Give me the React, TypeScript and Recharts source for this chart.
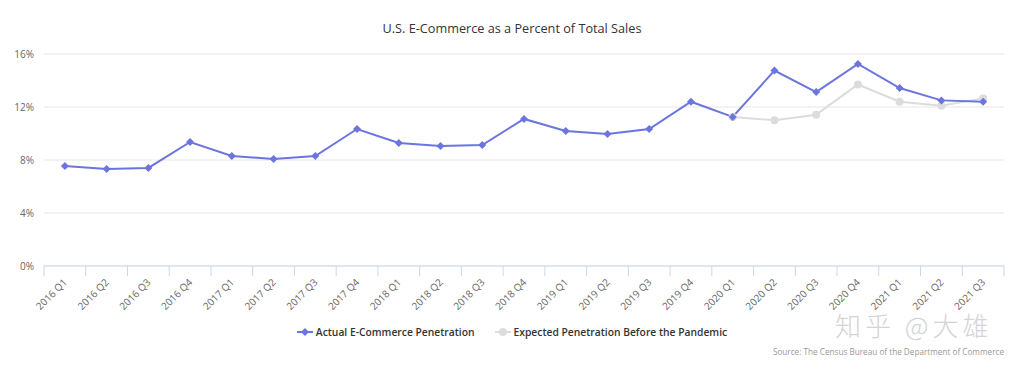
import React from 'react';
import { LineChart, Line, XAxis, YAxis, CartesianGrid } from 'recharts';

const categories = [
  '2016 Q1', '2016 Q2', '2016 Q3', '2016 Q4',
  '2017 Q1', '2017 Q2', '2017 Q3', '2017 Q4',
  '2018 Q1', '2018 Q2', '2018 Q3', '2018 Q4',
  '2019 Q1', '2019 Q2', '2019 Q3', '2019 Q4',
  '2020 Q1', '2020 Q2', '2020 Q3', '2020 Q4',
  '2021 Q1', '2021 Q2', '2021 Q3',
];

const actual = [
  7.55, 7.32, 7.4, 9.36,
  8.3, 8.08, 8.3, 10.34,
  9.28, 9.06, 9.13, 11.1,
  10.19, 9.96, 10.34, 12.4,
  11.25, 14.75, 13.13, 15.25,
  13.43, 12.5, 12.4,
];

const expected: (number | null)[] = [
  null, null, null, null,
  null, null, null, null,
  null, null, null, null,
  null, null, null, null,
  11.25, 11.0, 11.42, 13.7,
  12.4, 12.1, 12.65,
];

const yTicks = [0, 4, 8, 12, 16];

const seriesNames = ['Actual E-Commerce Penetration', 'Expected Penetration Before the Pandemic'];
const BLUE = '#6c74dd';
const GREY = '#dcdcdc';
const FONT = '"Open Sans", "DejaVu Sans", sans-serif';

const data = categories.map((c, i) => ({ cat: c, actual: actual[i], expected: expected[i] }));

const BAND = (1004 - 44) / categories.length;

const XTick = (props: any) => {
  const { x, y, payload, index } = props;
  const left = x - BAND / 2;
  return (
    <g>
      <line x1={left} x2={left} y1={266} y2={276} stroke="#ccd6eb" />
      {index === categories.length - 1 && (
        <line x1={left + BAND} x2={left + BAND} y1={266} y2={276} stroke="#ccd6eb" />
      )}
      <text
        x={x + 3}
        y={y + 9}
        textAnchor="end"
        fill="#666"
        fontSize={10}
        fontFamily={FONT}
        transform={`rotate(-45 ${x + 3} ${y + 9})`}
      >
        {payload.value}
      </text>
    </g>
  );
};

const Diamond = (props: any) => {
  const { cx, cy } = props;
  if (cx == null || cy == null) return null;
  const r = 4;
  return <path d={`M${cx} ${cy - r}L${cx + r} ${cy}L${cx} ${cy + r}L${cx - r} ${cy}Z`} fill={BLUE} />;
};

const Dot = (props: any) => {
  const { cx, cy, value } = props;
  if (cx == null || cy == null || value == null) return null;
  return <circle cx={cx} cy={cy} r={4} fill={GREY} />;
};

const LegendBox = () => (
  <div style={{ position: 'absolute', top: 325, left: 0, width: 1024, display: 'flex', justifyContent: 'center', fontFamily: FONT, fontSize: 10.3, fontWeight: 600, color: '#333' }}>
    <div style={{ display: 'flex', alignItems: 'center', marginRight: 20 }}>
      <svg width={16} height={10} style={{ marginRight: 3 }}>
        <line x1={0} x2={16} y1={5} y2={5} stroke={BLUE} strokeWidth={2} />
        <path d="M8 1L12 5L8 9L4 5Z" fill={BLUE} />
      </svg>
      {seriesNames[0]}
    </div>
    <div style={{ display: 'flex', alignItems: 'center' }}>
      <svg width={16} height={10} style={{ marginRight: 3 }}>
        <line x1={0} x2={16} y1={5} y2={5} stroke={GREY} strokeWidth={2} />
        <circle cx={8} cy={5} r={4} fill={GREY} />
      </svg>
      {seriesNames[1]}
    </div>
  </div>
);

export default function App() {
  return (
    <div style={{ position: 'absolute', left: 0, top: 0, width: 1024, height: 375, background: '#fff' }}>
      <div style={{ position: 'absolute', top: 19, left: 0, width: 1024, textAlign: 'center', fontFamily: FONT, fontSize: 12.7, color: '#333' }}>
        U.S. E-Commerce as a Percent of Total Sales
      </div>
      <LineChart width={1024} height={375} data={data} margin={{ top: 54, right: 20, bottom: 0, left: 0 }}>
        <CartesianGrid horizontal vertical={false} stroke="#e6e6e6" />
        <XAxis
          dataKey="cat"
          interval={0}
          tickLine={false}
          axisLine={{ stroke: '#ccd6eb' }}
          tick={<XTick />}
          height={109}
          padding={{ left: BAND / 2, right: BAND / 2 }}
        />
        <YAxis
          width={44}
          domain={[0, 16]}
          ticks={yTicks}
          tickFormatter={(v: number) => `${v}%`}
          axisLine={false}
          tickLine={false}
          tickSize={6}
          tickMargin={4}
          tick={{ fill: '#666', fontSize: 10, fontFamily: FONT }}
        />
        <Line
          type="linear"
          dataKey="expected"
          name={seriesNames[1]}
          stroke={GREY}
          strokeWidth={2}
          dot={<Dot />}
          activeDot={false}
          connectNulls={false}
          isAnimationActive={false}
        />
        <Line
          type="linear"
          dataKey="actual"
          name={seriesNames[0]}
          stroke={BLUE}
          strokeWidth={2}
          dot={<Diamond />}
          activeDot={false}
          isAnimationActive={false}
        />
      </LineChart>
      <LegendBox />
      <div style={{ position: 'absolute', top: 306, left: 835, fontFamily: '"Noto Sans CJK SC", sans-serif', fontSize: 26, fontWeight: 200, letterSpacing: 4, color: '#d4d4d4', whiteSpace: 'nowrap' }}>
        知乎 @大雄
      </div>
      <div style={{ position: 'absolute', top: 346, right: 20, fontFamily: FONT, fontSize: 8.2, color: '#999', whiteSpace: 'nowrap' }}>
        Source: The Census Bureau of the Department of Commerce
      </div>
    </div>
  );
}
